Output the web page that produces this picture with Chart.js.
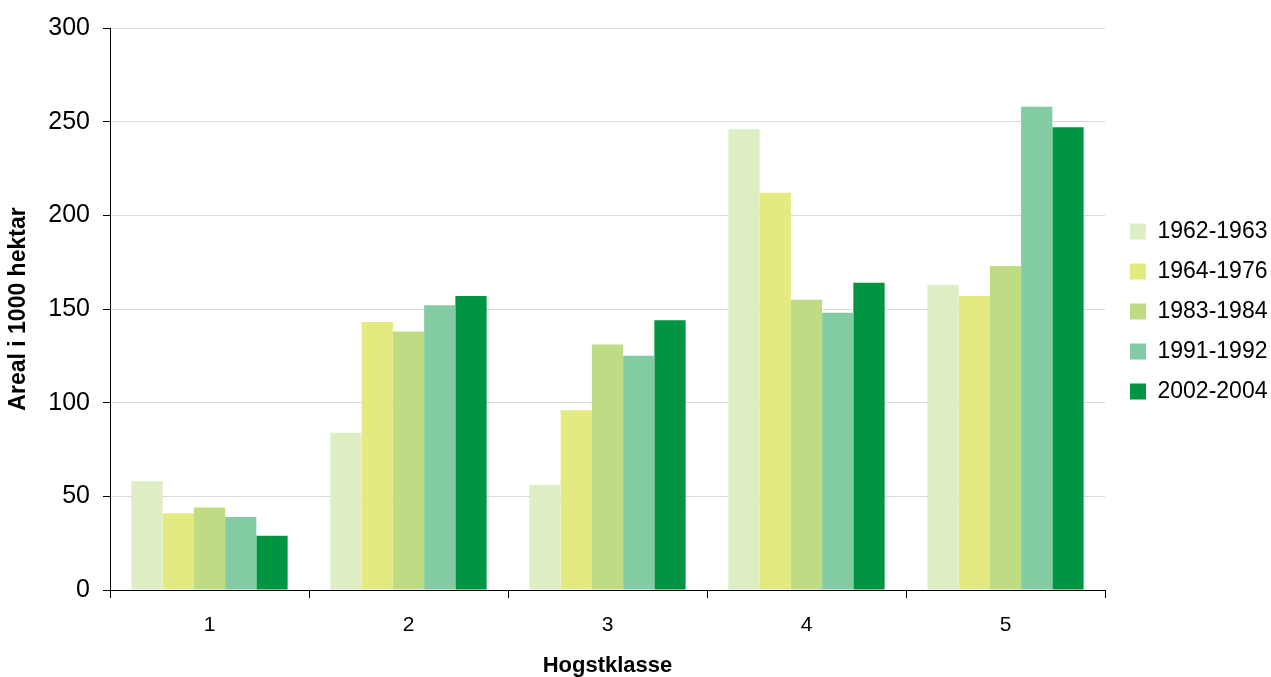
<!DOCTYPE html>
<html>
<head>
<meta charset="utf-8">
<script src="https://cdn.jsdelivr.net/npm/chart.js@4/dist/chart.umd.min.js"></script>
<style>
  html, body { margin: 0; padding: 0; background: #fff; }
  #wrap { width: 1271px; height: 677px; }
</style>
</head>
<body>
<div id="wrap"><canvas id="c" width="1271" height="677"></canvas></div>
<script>
const categories = ['1', '2', '3', '4', '5'];
const seriesNames = ['1962-1963', '1964-1976', '1983-1984', '1991-1992', '2002-2004'];
const s1962 = [58, 84, 56, 246, 163];
const s1964 = [41, 143, 96, 212, 157];
const s1983 = [44, 138, 131, 155, 173];
const s1991 = [39, 152, 125, 148, 258];
const s2002 = [29, 157, 144, 164, 247];
const seriesColors = ['#DEEDC2', '#E3EB80', '#BFDC84', '#82CBA3', '#009543'];
const yTicks = [0, 50, 100, 150, 200, 250, 300];

const seriesValues = [s1962, s1964, s1983, s1991, s2002];
const datasets = seriesNames.map((name, i) => ({
  label: name,
  data: seriesValues[i],
  backgroundColor: seriesColors[i],
  borderWidth: 0,
  barPercentage: 1.0,
  categoryPercentage: 0.785
}));

const FONT = "'Liberation Sans', Arial, sans-serif";

const legendTweak = {
  id: 'legendTweak',
  afterInit(chart) {
    const lg = chart.legend;
    if (!lg || lg._tweaked) return;
    lg._tweaked = true;
    const origFit = lg.fit;
    lg.fit = function () {
      origFit.call(this);
      this.width = 166;
    };
    const origDraw = lg.draw;
    lg.draw = function (area) {
      const ctx = this.ctx;
      ctx.save();
      ctx.translate(8, -40);
      origDraw.call(this, area);
      ctx.restore();
    };
  }
};

new Chart(document.getElementById('c'), {
  type: 'bar',
  data: { labels: categories, datasets },
  plugins: [legendTweak],
  options: {
    responsive: false,
    animation: false,
    layout: { padding: { top: 26, left: 0, right: 0, bottom: 0 } },
    plugins: {
      legend: {
        position: 'right',
        labels: {
          boxWidth: 16,
          boxHeight: 16,
          padding: 17,
          color: '#000',
          font: { family: FONT, size: 23 }
        }
      },
      tooltip: { enabled: false }
    },
    scales: {
      x: {
        afterFit(scale) { scale.height = 87; },
        grid: {
          display: true,
          offset: true,
          drawOnChartArea: false,
          drawTicks: true,
          tickLength: 8,
          color: '#000',
          tickColor: '#000'
        },
        border: { display: true, color: '#000', width: 1 },
        ticks: {
          color: '#000',
          padding: 15,
          font: { family: FONT, size: 21 }
        },
        title: {
          display: true,
          text: 'Hogstklasse',
          color: '#000',
          padding: { top: 0, bottom: 0 },
          font: { family: FONT, size: 22, weight: 'bold', lineHeight: 1 }
        }
      },
      y: {
        min: 0,
        max: 300,
        afterFit(scale) { scale.width = 110; },
        afterBuildTicks(scale) { scale.ticks = yTicks.map(v => ({ value: v })); },
        grid: {
          color: '#D9D9D9',
          tickColor: '#000',
          tickLength: 7,
          lineWidth: 1
        },
        border: { display: true, color: '#000', width: 1 },
        ticks: {
          color: '#000',
          padding: 13,
          font: { family: FONT, size: 25 }
        },
        title: {
          display: true,
          text: 'Areal i 1000 hektar',
          color: '#000',
          padding: { top: 7, bottom: 0 },
          font: { family: FONT, size: 23, weight: 'bold', lineHeight: 1 }
        }
      }
    }
  }
});
</script>
</body>
</html>
